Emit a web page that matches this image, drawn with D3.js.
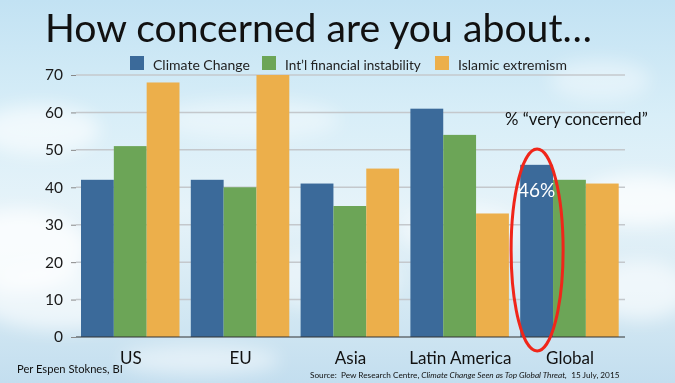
<!DOCTYPE html>
<html><head><meta charset="utf-8">
<script src="https://cdn.jsdelivr.net/npm/d3@7"></script>
<style>html,body{margin:0;padding:0;overflow:hidden;background:#cfe8f5}svg{display:block}text{font-family:Lato,"Open Sans",sans-serif}</style>
</head><body>
<svg id="c" width="675" height="383"></svg>
<script>
const categories = ["US", "EU", "Asia", "Latin America", "Global"];
const seriesNames = ["Climate Change", "Int\u2019l financial instability", "Islamic extremism"];
const climateChange = [42, 42, 41, 61, 46];
const financialInstability = [51, 40, 35, 54, 42];
const islamicExtremism = [68, 70, 45, 33, 41];
const yTicks = [0, 10, 20, 30, 40, 50, 60, 70];
const colors = ["#3b6a9a", "#6ca557", "#ecaf4b"];

const seriesValues = [climateChange, financialInstability, islamicExtremism];
const svg = d3.select("#c");
const W = 675, H = 383;

// background sky
const defs = svg.append("defs");
const g1 = defs.append("linearGradient").attr("id","sky").attr("x1",0).attr("y1",0).attr("x2",0).attr("y2",1);
[["0%","#c2e2f3"],["30%","#d8eef8"],["55%","#e6f3f9"],["80%","#d3e8f3"],["100%","#c3deef"]].forEach(s=>g1.append("stop").attr("offset",s[0]).attr("stop-color",s[1]));
defs.append("filter").attr("id","blur").attr("x","-50%").attr("y","-50%").attr("width","200%").attr("height","200%")
  .append("feGaussianBlur").attr("stdDeviation",9);
svg.append("rect").attr("width",W).attr("height",H).attr("fill","url(#sky)");
const clouds = [[40,130,60,25,0.6],[20,250,70,40,0.8],[60,300,80,30,0.6],[250,120,90,20,0.4],[640,200,60,25,0.7],[640,290,50,30,0.6],[460,230,60,25,0.5],[200,360,80,15,0.5],[600,80,50,20,0.4],[330,280,70,30,0.4]];
svg.append("g").attr("filter","url(#blur)").selectAll("ellipse").data(clouds).join("ellipse")
  .attr("cx",d=>d[0]).attr("cy",d=>d[1]).attr("rx",d=>d[2]).attr("ry",d=>d[3])
  .attr("fill","#fff").attr("opacity",d=>d[4]);

function fit(sel, target){
  const n = sel.node(); const w = n.getComputedTextLength();
  const fs = parseFloat(sel.attr("font-size"));
  sel.attr("font-size", fs*target/w);
}

// title
const title = svg.append("text").attr("x",45).attr("y",42).attr("font-size",42).attr("fill","#111")
  .text("How concerned are you about\u2026");
fit(title, 547);

// scales
const y = d3.scaleLinear().domain([0,70]).range([337,75]);
const x0 = d3.scaleBand().domain(categories).range([76,625]).padding(0);
const x1 = d3.scaleBand().domain(seriesNames).range([5,103.5]).padding(0);

// gridlines
svg.append("g").selectAll("line").data(yTicks.filter(t=>t>0)).join("line")
  .attr("x1",76).attr("x2",625).attr("y1",d=>y(d)).attr("y2",d=>y(d))
  .attr("stroke","#c4c8cc").attr("stroke-width",1.5);

// y axis
const yAxis = svg.append("g").attr("transform","translate(76,0)")
  .call(d3.axisLeft(y).tickValues(yTicks).tickSize(5).tickPadding(8));
yAxis.select(".domain").remove();
yAxis.selectAll(".tick line").attr("stroke","#888");
yAxis.selectAll(".tick text").attr("font-size",15.5).attr("fill","#1a1a1a").attr("font-family","Lato,sans-serif");

// bars
const groups = svg.append("g").selectAll("g").data(categories).join("g")
  .attr("transform",d=>`translate(${x0(d)},0)`);
groups.selectAll("rect").data((c,i)=>seriesNames.map((s,j)=>({s, j, v: seriesValues[j][i]}))).join("rect")
  .attr("x",d=>x1(d.s)).attr("width",x1.bandwidth()).attr("y",d=>y(d.v)).attr("height",d=>y(0)-y(d.v))
  .attr("fill",d=>colors[d.j]);

// baseline
svg.append("line").attr("x1",76).attr("x2",625).attr("y1",y(0)).attr("y2",y(0)).attr("stroke","#333").attr("stroke-width",1.2);

// x labels
svg.append("g").selectAll("text").data(categories).join("text")
  .attr("x",d=>x0(d)+x0.bandwidth()/2).attr("y",364).attr("text-anchor","middle")
  .attr("font-size",17).attr("fill","#111").text(d=>d);

// legend
const legX = [130, 262, 435], legTW = [97, 136, 109];
const leg = svg.append("g").selectAll("g").data(seriesNames).join("g");
leg.append("rect").attr("x",(d,i)=>legX[i]).attr("y",56).attr("width",14).attr("height",14).attr("fill",(d,i)=>colors[i]);
leg.append("text").attr("x",(d,i)=>legX[i]+23).attr("y",69.5).attr("font-size",15).attr("fill","#222").text(d=>d)
  .each(function(d,i){ fit(d3.select(this), legTW[i]); });

// annotation
const ann = svg.append("text").attr("x",505).attr("y",125).attr("font-size",16).attr("fill","#111").text("% \u201cvery concerned\u201d");
fit(ann, 143);
const gIdx = categories.indexOf("Global");
const gx = x0("Global") + x1(seriesNames[0]) + x1.bandwidth()/2;
svg.append("text").attr("x",gx).attr("y",y(climateChange[gIdx])+32).attr("text-anchor","middle")
  .attr("font-size",19).attr("fill","#fff").text(climateChange[gIdx] + "%");
svg.append("ellipse").attr("cx",gx+0.5).attr("cy",250).attr("rx",26).attr("ry",101)
  .attr("fill","none").attr("stroke","#f0261a").attr("stroke-width",3);

// footers
const per = svg.append("text").attr("x",17).attr("y",373).attr("font-size",12).attr("fill","#111").text("Per Espen Stoknes, BI");
fit(per, 106);
const src = svg.append("text").attr("x",310).attr("y",378).attr("font-size",9.5).attr("fill","#111");
src.append("tspan").text("Source:\u00a0 Pew Research Centre, ");
src.append("tspan").attr("font-style","italic").text("Climate Change Seen as Top Global Threat,");
src.append("tspan").text("\u00a0 15 July, 2015");
fit(src, 310);
</script>
</body></html>
